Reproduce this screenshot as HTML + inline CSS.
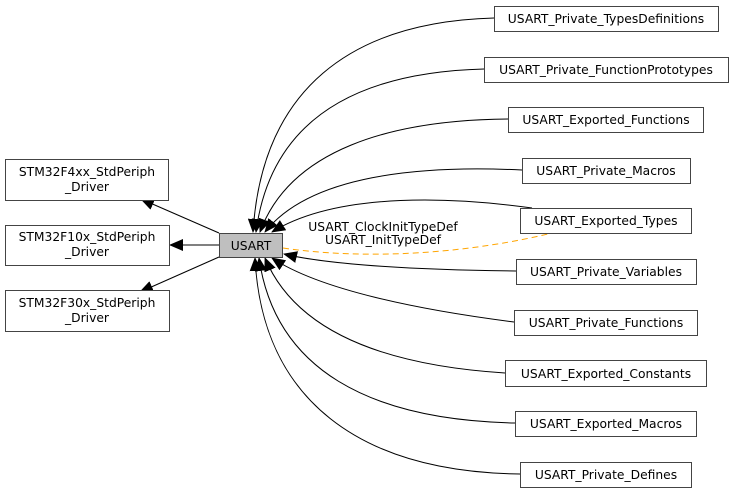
<!DOCTYPE html>
<html><head><meta charset="utf-8"><style>
html,body{margin:0;padding:0;background:#fff;width:733px;height:493px;overflow:hidden;}
svg{display:block;}
text{font-family:"DejaVu Sans","Liberation Sans",sans-serif;font-size:12.3px;fill:#000;}
</style></head><body>
<svg width="733" height="493" viewBox="0 0 733 493" xmlns="http://www.w3.org/2000/svg">
<defs>
<marker id="a" markerWidth="14" markerHeight="12" refX="13" refY="6" orient="auto" markerUnits="userSpaceOnUse">
<path d="M0,0 L14,6 L0,12 Z" fill="#000"/></marker>
</defs>
<g fill="none" stroke="#000" stroke-width="1">
<path d="M219,233 L141,199" marker-end="url(#a)"/>
<path d="M219,245 L170,245" marker-end="url(#a)"/>
<path d="M219,257 L140,292" marker-end="url(#a)"/>
<path d="M494,18 C350,22 262,90 253,232" marker-end="url(#a)"/>
<path d="M484,69 C370,72 272,110 256,232" marker-end="url(#a)"/>
<path d="M508,119 C390,120 290,150 260,232" marker-end="url(#a)"/>
<path d="M522,170 C420,165 310,175 265,232" marker-end="url(#a)"/>
<path d="M532,208 C460,198 340,190 272,232" marker-end="url(#a)"/>
<path d="M516,271 C420,270 330,265 284,254" marker-end="url(#a)"/>
<path d="M514,322 C420,310 320,290 272,258" marker-end="url(#a)"/>
<path d="M505,373 C380,365 295,330 265,258" marker-end="url(#a)"/>
<path d="M515,423 C370,420 275,370 259,258" marker-end="url(#a)"/>
<path d="M520,474 C360,472 262,400 255,258" marker-end="url(#a)"/>
</g>
<path d="M283,248 C380,262 480,250 548,234" fill="none" stroke="#ffa500" stroke-dasharray="6,4"/>
<text x="383" y="231" text-anchor="middle">USART_ClockInitTypeDef</text>
<text x="383" y="244" text-anchor="middle">USART_InitTypeDef</text>
<g fill="#fff" stroke="#444" stroke-width="1">
<rect x="5.5" y="159.5" width="163" height="41"/>
<rect x="5.5" y="225.5" width="164" height="40"/>
<rect x="5.5" y="290.5" width="164" height="41"/>
<rect x="219.5" y="233.5" width="63" height="24" fill="#bfbfbf"/>
<rect x="494.5" y="6.5" width="224" height="25"/>
<rect x="484.5" y="57.5" width="244" height="25"/>
<rect x="508.5" y="107.5" width="195" height="25"/>
<rect x="522.5" y="158.5" width="168" height="25"/>
<rect x="520.5" y="208.5" width="171" height="25"/>
<rect x="516.5" y="259.5" width="180" height="25"/>
<rect x="514.5" y="310.5" width="183" height="25"/>
<rect x="505.5" y="360.5" width="201" height="26"/>
<rect x="515.5" y="411.5" width="181" height="25"/>
<rect x="520.5" y="462.5" width="171" height="25"/>
</g>
<text x="87" y="176" text-anchor="middle">STM32F4xx_StdPeriph</text>
<text x="87" y="191" text-anchor="middle">_Driver</text>
<text x="87" y="241" text-anchor="middle">STM32F10x_StdPeriph</text>
<text x="87" y="256" text-anchor="middle">_Driver</text>
<text x="87" y="307" text-anchor="middle">STM32F30x_StdPeriph</text>
<text x="87" y="322" text-anchor="middle">_Driver</text>
<text x="251" y="250" text-anchor="middle">USART</text>
<text x="606" y="23" text-anchor="middle">USART_Private_TypesDefinitions</text>
<text x="606" y="74" text-anchor="middle">USART_Private_FunctionPrototypes</text>
<text x="606" y="124" text-anchor="middle">USART_Exported_Functions</text>
<text x="606" y="175" text-anchor="middle">USART_Private_Macros</text>
<text x="606" y="225" text-anchor="middle">USART_Exported_Types</text>
<text x="606" y="276" text-anchor="middle">USART_Private_Variables</text>
<text x="606" y="327" text-anchor="middle">USART_Private_Functions</text>
<text x="606" y="378" text-anchor="middle">USART_Exported_Constants</text>
<text x="606" y="428" text-anchor="middle">USART_Exported_Macros</text>
<text x="606" y="479" text-anchor="middle">USART_Private_Defines</text>
</svg>
</body></html>
